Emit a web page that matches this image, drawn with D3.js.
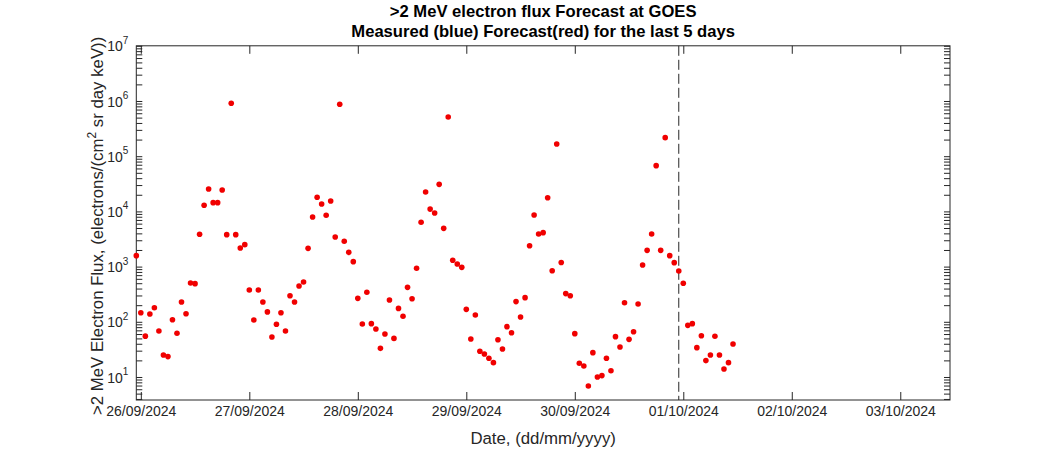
<!DOCTYPE html>
<html>
<head>
<meta charset="utf-8">
<script src="https://cdn.jsdelivr.net/npm/d3@7"></script>
<style>
  html, body { margin: 0; padding: 0; background: #fff; }
  svg { display: block; font-family: "Liberation Sans", Arial, Helvetica, sans-serif; }
</style>
</head>
<body>
<svg id="chart" width="1050" height="450"></svg>
<script>
// ---------------- data ----------------
const titleLines = [">2 MeV electron flux Forecast at GOES", "Measured (blue) Forecast(red) for the last 5 days"];
const xLabel = "Date, (dd/mm/yyyy)";
const firstSampleUTC = "2024-09-25T23:00:00Z";   // hourly samples start here
const nowUTC = "2024-09-30T23:00:00Z";           // dashed "now" line
const xEndUTC = "2024-10-03T11:00:00Z";
const xTickDates = ["2024-09-26", "2024-09-27", "2024-09-28", "2024-09-29", "2024-09-30", "2024-10-01", "2024-10-02", "2024-10-03"];
const yTickExponents = [1, 2, 3, 4, 5, 6, 7];
const yMin = 3.83, yMax = 1e7;
// hourly flux values (electrons/(cm^2 sr day keV))
const fluxForecast = [
  1580,146,55,138,180,68,25,23.4,109,62,228,140,505,491,3850,12900,25500,14400,14400,24400,3790,908000,3790,2170,2500,377,108,
  377,228,151,53,90,146,68,297,228,445,526,2140,7930,18000,13600,8490,15400,3440,871000,2870,1810,1230,266,91,342,92.5,74,
  33,60,248,50,175,126,421,262,931,6340,22400,11000,9350,30900,4930,513000,1300,1115,970,168,48.7,133,29.2,26.1,21.8,18.2,
  47.4,32.1,81.7,63.5,232,122,274,2390,8610,3900,4120,17700,843,166000,1190,324,297,61,17.7,15.8,6.87,27.6,10,10.6,21.8,13,53.8,
  34.9,222,48.1,66.2,210,1070,1970,3900,67400,1970,217000,1580,1180,832,498,86.3,92.5,34,56,19.8,25,54.6,25,14,18.2,39.6
];

// ---------------- layout ----------------
const plot = { left: 136.3, right: 950, top: 45.8, bottom: 400 };
const axisColor = "#262626";
const fontFam = '"Liberation Sans", Arial, Helvetica, sans-serif';
const svg = d3.select("#chart");
svg.append("rect").attr("width", 1050).attr("height", 450).attr("fill", "#fff");

const t0 = new Date(firstSampleUTC);
const samples = fluxForecast.map((v, i) => ({ t: d3.utcHour.offset(t0, i), v }));

const x = d3.scaleUtc().domain([t0, new Date(xEndUTC)]).range([plot.left, plot.right]);
const y = d3.scaleLog().domain([yMin, yMax]).range([plot.bottom, plot.top]);

const fmtDate = d3.utcFormat("%d/%m/%Y");
const xTicks = xTickDates.map(s => new Date(s + "T00:00:00Z"));

// y ticks: majors + minors
const yAll = [];
for (let e = 0; e <= 6; e++) for (let m = 1; m <= 9; m++) {
  const v = m * Math.pow(10, e);
  if (v >= yMin && v <= yMax) yAll.push(v);
}
yAll.push(yMax);

function styleAxis(g) {
  g.select(".domain").remove();
  g.selectAll(".tick line").attr("stroke", axisColor).attr("stroke-width", 1);
}

// bottom axis
const gxB = svg.append("g").attr("transform", `translate(0,${plot.bottom})`)
  .call(d3.axisBottom(x).tickValues(xTicks).tickSize(-8).tickPadding(6).tickFormat(fmtDate));
styleAxis(gxB);
gxB.selectAll(".tick text").attr("font-size", 14).attr("fill", axisColor).attr("font-family", fontFam);

// top axis
const gxT = svg.append("g").attr("transform", `translate(0,${plot.top})`)
  .call(d3.axisTop(x).tickValues(xTicks).tickSize(-8).tickFormat(""));
styleAxis(gxT);

// left axis
const gyL = svg.append("g").attr("transform", `translate(${plot.left},0)`)
  .call(d3.axisLeft(y).tickValues(yAll).tickSize(-6).tickPadding(8).tickFormat(""));
styleAxis(gyL);
gyL.selectAll(".tick").each(function (d) {
  const e = Math.round(Math.log10(d));
  if (Math.abs(d - Math.pow(10, e)) > 1e-9 * d || !yTickExponents.includes(e)) return;
  const txt = d3.select(this).select("text")
    .attr("font-size", 14).attr("fill", axisColor).attr("dy", "0.36em").attr("font-family", fontFam);
  txt.text(null);
  txt.append("tspan").text("10");
  txt.append("tspan").attr("font-size", 10).attr("dy", "-0.75em").text(String(e));
});

// right axis
const gyR = svg.append("g").attr("transform", `translate(${plot.right},0)`)
  .call(d3.axisRight(y).tickValues(yAll).tickSize(-6).tickFormat(""));
styleAxis(gyR);

// box
svg.append("rect")
  .attr("x", plot.left).attr("y", plot.top)
  .attr("width", plot.right - plot.left).attr("height", plot.bottom - plot.top)
  .attr("fill", "none").attr("stroke", axisColor).attr("stroke-width", 1);

// now line
const xNow = x(new Date(nowUTC));
svg.append("line")
  .attr("x1", xNow).attr("x2", xNow).attr("y1", plot.top).attr("y2", plot.bottom)
  .attr("stroke", "#262626").attr("stroke-width", 1).attr("stroke-dasharray", "10,4");

// points
svg.append("g").selectAll("circle").data(samples).join("circle")
  .attr("cx", d => x(d.t)).attr("cy", d => y(d.v)).attr("r", 2.8)
  .attr("fill", "#f00000");

// titles
const cx = (plot.left + plot.right) / 2;
svg.append("text").attr("x", cx).attr("y", 17).attr("text-anchor", "middle")
  .attr("font-size", 16.6).attr("font-weight", "bold").attr("fill", "#000").text(titleLines[0]);
svg.append("text").attr("x", cx).attr("y", 36.5).attr("text-anchor", "middle")
  .attr("font-size", 16.6).attr("font-weight", "bold").attr("fill", "#000").text(titleLines[1]);

// x label
svg.append("text").attr("x", cx).attr("y", 443.5).attr("text-anchor", "middle")
  .attr("font-size", 16.8).attr("fill", axisColor).text(xLabel);

// y label
const cy = (plot.top + plot.bottom) / 2 + 3;
const yl = svg.append("text").attr("transform", `translate(103,${cy}) rotate(-90)`)
  .attr("text-anchor", "middle").attr("font-size", 16.8).attr("fill", axisColor);
yl.append("tspan").text(">2 MeV Electron Flux, (electrons/(cm");
yl.append("tspan").attr("font-size", 12).attr("dy", "-0.55em").text("2");
yl.append("tspan").attr("dy", "0.4em").text(" sr day keV))");
</script>
</body>
</html>
